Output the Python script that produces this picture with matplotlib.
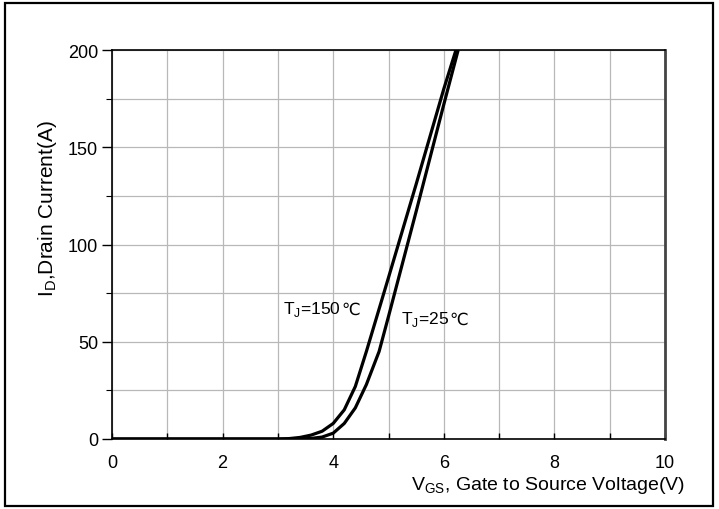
import matplotlib.pyplot as plt
from matplotlib.ticker import MultipleLocator

# transfer characteristics
vgs_150 = [0, 3.0, 3.2, 3.4, 3.6, 3.8, 4.0, 4.2, 4.4, 4.6, 5.0, 5.5, 6.0, 6.22]
id_150 = [0, 0, 0.2, 0.8, 2, 4, 8, 15, 27, 45, 83, 131, 180, 200]
vgs_25 = [0, 3.4, 3.6, 3.8, 4.0, 4.2, 4.4, 4.6, 4.83, 5.0, 5.5, 6.0, 6.26]
id_25 = [0, 0, 0.3, 1, 3, 8, 16, 28, 45, 63, 117, 172, 200]

xticks = [0, 2, 4, 6, 8, 10]
yticks = [0, 50, 100, 150, 200]

plt.rcParams['font.family'] = ['Liberation Sans', 'DejaVu Sans']
plt.rcParams['mathtext.fontset'] = 'custom'
plt.rcParams['mathtext.rm'] = 'Liberation Sans'

fig = plt.figure(figsize=(7.19, 5.10), dpi=100)
ax = fig.add_axes([112 / 719, 1 - 440 / 510, (665 - 112) / 719, (440 - 51) / 510])

ax.plot(vgs_150, id_150, color='black', lw=2.3, solid_capstyle='butt')
ax.plot(vgs_25, id_25, color='black', lw=2.3, solid_capstyle='butt')

ax.set_xlim(0, 10)
ax.set_ylim(0, 200)
ax.set_xticks(xticks)
ax.set_yticks(yticks)
ax.xaxis.set_minor_locator(MultipleLocator(1))
ax.yaxis.set_minor_locator(MultipleLocator(25))
ax.grid(which='both', color='#b8b8b8', lw=0.9)
ax.set_axisbelow(True)

ax.tick_params(axis='y', which='major', direction='out', length=7, width=1, labelsize=13, pad=3)
ax.tick_params(axis='y', which='minor', direction='out', length=4, width=0.8)
ax.tick_params(axis='x', which='both', direction='in', length=4, width=1, labelsize=13, pad=11)

for side in ['left', 'bottom', 'top']:
    ax.spines[side].set_linewidth(1.2)
ax.spines['right'].set_linewidth(2)
ax.spines['right'].set_color('#444444')

ax.set_ylabel('I$_\\mathregular{D}$,Drain Current(A)', fontsize=15)
ax.yaxis.set_label_coords(-0.096, 0.596)
ax.set_xlabel('V$_\\mathregular{GS}$, Gate to Source Voltage(V)', fontsize=14, ha='left')
ax.xaxis.set_label_coords(0.54, -0.09)

# T_J annotations; the degree-Celsius sign comes from DejaVu Sans
for x, y, s in [(3.1, 67, 'T$_\\mathregular{J}$=150'), (5.23, 62, 'T$_\\mathregular{J}$=25')]:
    t = ax.text(x, y, s, fontsize=12.5, ha='left', va='center')
    ax.annotate('℃', xy=(1, 0.5), xycoords=t, fontsize=12, va='center', ha='left',
                family='DejaVu Sans')

# outer frame around the whole picture
fig.patches.append(plt.Rectangle((5 / 719, 3 / 510), 708 / 719, 503 / 510,
                                 transform=fig.transFigure, fill=False,
                                 edgecolor='black', lw=1.6))

fig.savefig('out.png', dpi=100)
